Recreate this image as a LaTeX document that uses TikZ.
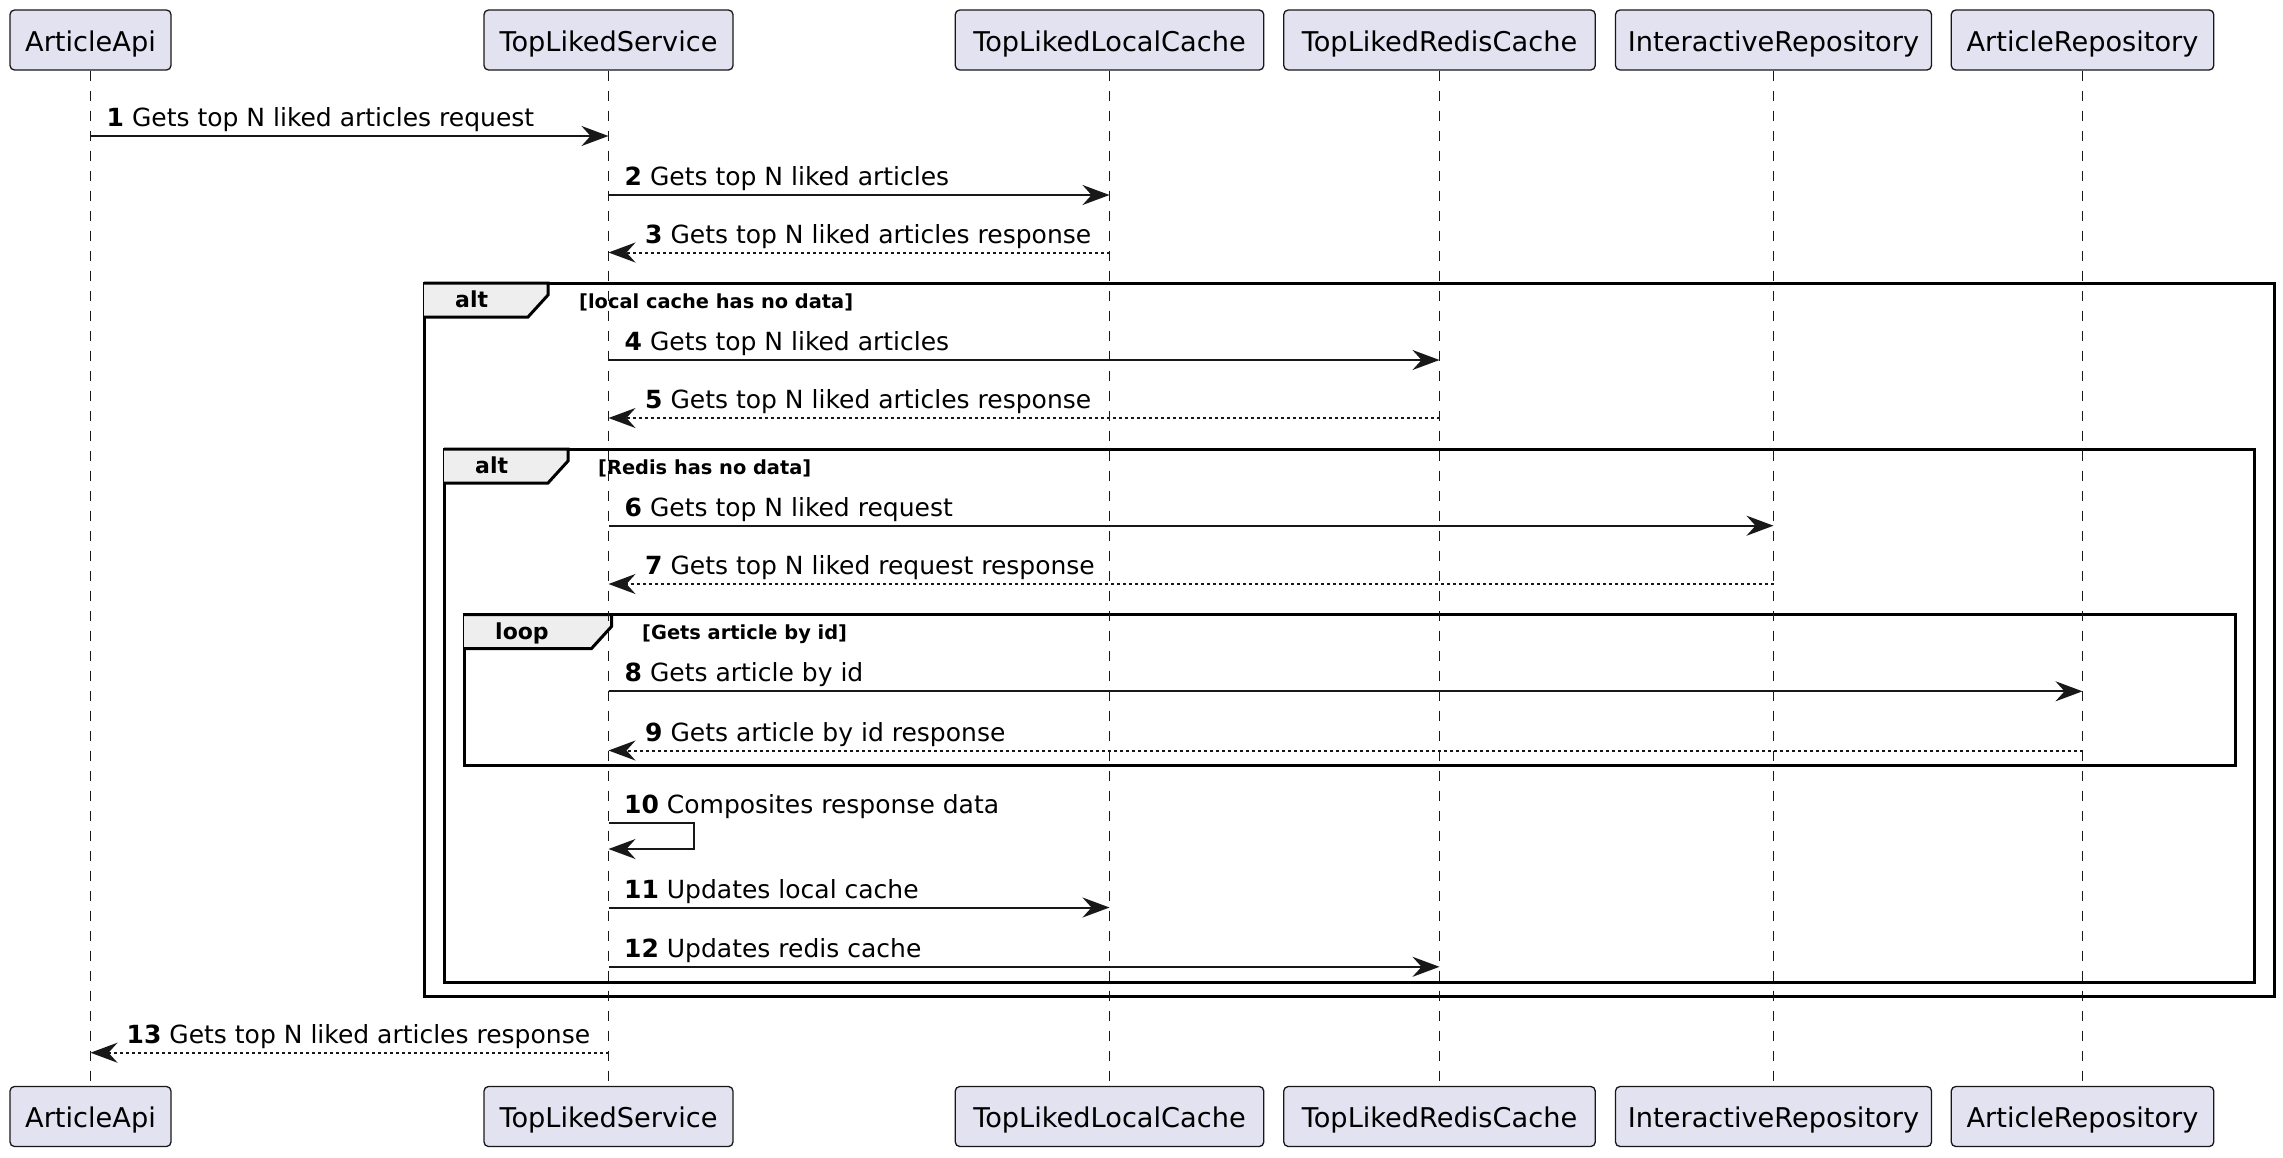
\documentclass[tikz,border=0pt]{standalone}
\usepackage{fontspec}
\setmainfont{DejaVu Sans}
\usetikzlibrary{arrows.meta}
\definecolor{partfill}{HTML}{E2E2F0}
\definecolor{ink}{HTML}{181818}
\definecolor{tabfill}{HTML}{EEEEEE}
\tikzset{
  part/.style={draw=ink, fill=partfill, rounded corners=4.5pt, line width=1.3pt,
    minimum height=60pt, inner sep=0pt, text height=22pt, text depth=0pt,
    text=black, font=\fontsize{27.2}{28}\selectfont},
  lifeline/.style={draw=ink, line width=1.2pt, dash pattern=on 10pt off 10pt},
  msg/.style={draw=ink, line width=2pt, line join=miter,
    -{Stealth[length=27pt,width=20pt,inset=9pt]}},
  reply/.style={msg, dash pattern=on 3pt off 3pt},
  lbl/.style={anchor=base west, inner sep=0pt, text=black, font=\fontsize{25}{27}\selectfont},
  frame/.style={draw=black, line width=3pt},
  tab/.style={draw=black, fill=tabfill, line width=3pt, line join=miter},
  fkind/.style={anchor=base west, inner sep=0pt, font=\bfseries\fontsize{22}{24}\selectfont},
  fcond/.style={anchor=base west, inner sep=0pt, font=\bfseries\fontsize{19.4}{22}\selectfont},
}
\begin{document}
\begin{tikzpicture}[x=1pt, y=-1pt]
\useasboundingbox (0,0) rectangle (2283,1157);
% frames
\draw[frame] (424,283) rectangle (2274,996.5);
\draw[tab] (424,283) -- (548,283) -- (548,295) -- (528,317) -- (424,317);
\node[fkind] (k1) at (455,307.5) {alt};
\node[fcond] (c1) at (579,308) {[local cache has no data]};
\draw[frame] (444,449) rectangle (2254,982.5);
\draw[tab] (444,449) -- (568,449) -- (568,461) -- (548,483) -- (444,483);
\node[fkind] (k2) at (475,473.5) {alt};
\node[fcond] (c2) at (598,474) {[Redis has no data]};
\draw[frame] (464,614.5) rectangle (2235,765.5);
\draw[tab] (464,614.5) -- (611.5,614.5) -- (611.5,626.5) -- (591.5,648.5) -- (464,648.5);
\node[fkind] (k3) at (495,639) {loop};
\node[fcond] (c3) at (642,639.5) {[Gets article by id]};
% participants
\node[part, minimum width=161pt] (aT) at (90.5,40) {ArticleApi};
\node[part, minimum width=249pt] (sT) at (608.5,40) {TopLikedService};
\node[part, minimum width=308.5pt] (lT) at (1109.5,40) {TopLikedLocalCache};
\node[part, minimum width=311.5pt] (rT) at (1439.5,40) {TopLikedRedisCache};
\node[part, minimum width=316pt] (iT) at (1773.5,40) {InteractiveRepository};
\node[part, minimum width=262.5pt] (pT) at (2082.5,40) {ArticleRepository};
\node[part, minimum width=161pt] (aB) at (90.5,1116.5) {ArticleApi};
\node[part, minimum width=249pt] (sB) at (608.5,1116.5) {TopLikedService};
\node[part, minimum width=308.5pt] (lB) at (1109.5,1116.5) {TopLikedLocalCache};
\node[part, minimum width=311.5pt] (rB) at (1439.5,1116.5) {TopLikedRedisCache};
\node[part, minimum width=316pt] (iB) at (1773.5,1116.5) {InteractiveRepository};
\node[part, minimum width=262.5pt] (pB) at (2082.5,1116.5) {ArticleRepository};
% lifelines
\draw[lifeline] (aT.south) -- (aB.north);
\draw[lifeline] (sT.south) -- (sB.north);
\draw[lifeline] (lT.south) -- (lB.north);
\draw[lifeline] (rT.south) -- (rB.north);
\draw[lifeline] (iT.south) -- (iB.north);
\draw[lifeline] (pT.south) -- (pB.north);
% messages
\draw[msg] (aT.south |- 0,136) -- (sT.south |- 0,136);
\node[lbl] (t1) at (106.5,126.5) {\textbf{1} Gets top N liked articles request};
\draw[msg] (sT.south |- 0,195) -- (lT.south |- 0,195);
\node[lbl] (t2) at (624.5,185.5) {\textbf{2} Gets top N liked articles};
\draw[reply] (lT.south |- 0,252.5) -- (sT.south |- 0,252.5);
\node[lbl] (t3) at (645,243) {\textbf{3} Gets top N liked articles response};
\draw[msg] (sT.south |- 0,360) -- (rT.south |- 0,360);
\node[lbl] (t4) at (624.5,350.5) {\textbf{4} Gets top N liked articles};
\draw[reply] (rT.south |- 0,418) -- (sT.south |- 0,418);
\node[lbl] (t5) at (645,408.5) {\textbf{5} Gets top N liked articles response};
\draw[msg] (sT.south |- 0,525.7) -- (iT.south |- 0,525.7);
\node[lbl] (t6) at (624.5,516) {\textbf{6} Gets top N liked request};
\draw[reply] (iT.south |- 0,584) -- (sT.south |- 0,584);
\node[lbl] (t7) at (645,574.5) {\textbf{7} Gets top N liked request response};
\draw[msg] (sT.south |- 0,691.3) -- (pT.south |- 0,691.3);
\node[lbl] (t8) at (624.5,681.5) {\textbf{8} Gets article by id};
\draw[reply] (pT.south |- 0,750.5) -- (sT.south |- 0,750.5);
\node[lbl] (t9) at (645,741) {\textbf{9} Gets article by id response};
\coordinate (selfR) at (694,836);
\draw[msg] (sT.south |- 0,823) -- (selfR |- 0,823) -- (selfR |- 0,849) -- (sT.south |- 0,849);
\node[lbl] (t10) at (624,813.5) {\textbf{10} Composites response data};
\draw[msg] (sT.south |- 0,907.5) -- (lT.south |- 0,907.5);
\node[lbl] (t11) at (624,898) {\textbf{11} Updates local cache};
\draw[msg] (sT.south |- 0,966.8) -- (rT.south |- 0,966.8);
\node[lbl] (t12) at (624,957.3) {\textbf{12} Updates redis cache};
\draw[reply] (sT.south |- 0,1052.7) -- (aT.south |- 0,1052.7);
\node[lbl] (t13) at (126.5,1043.2) {\textbf{13} Gets top N liked articles response};
\end{tikzpicture}
\end{document}
